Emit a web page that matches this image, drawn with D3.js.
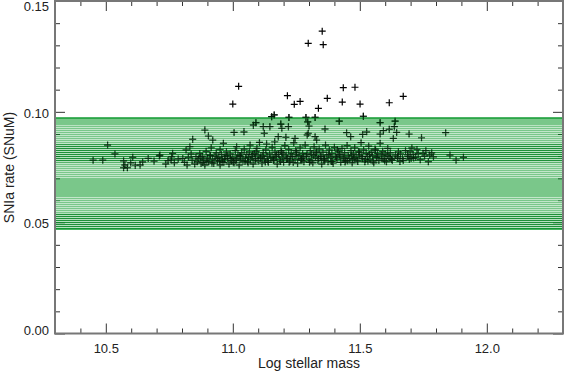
<!DOCTYPE html>
<html><head><meta charset="utf-8">
<script src="https://cdn.jsdelivr.net/npm/d3@7"></script>
<style>
body{margin:0;background:#fff;}
svg{display:block;}
.tick text{font-family:"Liberation Sans",Arial,sans-serif;font-size:13px;fill:#222;}
.ttl{font-family:"Liberation Sans",Arial,sans-serif;font-size:14px;fill:#222;}
</style></head>
<body>
<script>
// ---- data ----
const xDomain = [10.3, 12.3];
const yDomain = [0, 0.15];
const xMajorTicks = [10.5, 11.0, 11.5, 12.0];
const xMinorTicks = [10.4, 10.6, 10.7, 10.8, 10.9, 11.1, 11.2, 11.3, 11.4, 11.6, 11.7, 11.8, 11.9, 12.1, 12.2];
const yMajorTicks = [0.00, 0.05, 0.10, 0.15];
const yMinorTicks = [0.01, 0.02, 0.03, 0.04, 0.06, 0.07, 0.08, 0.09, 0.11, 0.12, 0.13, 0.14];
const xLabel = "Log stellar mass";
const yLabel = "SNIa rate (SNuM)";
// model band: overall range and sub-zones (lo, hi, kind)
const bandRange = [0.0471, 0.0972];
const bandZoneLo   = [0.0940, 0.0854, 0.0772, 0.0700, 0.0616, 0.0543, 0.0471];
const bandZoneHi   = [0.0972, 0.0940, 0.0854, 0.0772, 0.0700, 0.0616, 0.0543];
const bandZoneKind = ["solid", "light", "dark", "light", "solid", "light", "dark"];
// galaxies: log stellar mass, SNIa rate
const massX = [
10.45,10.488,10.507,10.536,10.57,10.575,10.585,10.57,10.598,10.606,10.616,10.635,10.645,10.667,10.69,10.711,10.713,10.736,10.745,10.757,10.759,10.763,10.77,10.785,10.803,10.81,10.816,10.82,10.825,10.831,10.836,10.842,10.84,10.85,10.855,10.86,
10.865,10.87,10.875,10.88,10.885,10.89,10.89,10.895,10.9,10.904,10.905,10.91,10.915,10.92,10.921,10.925,10.93,10.935,10.94,10.945,10.95,10.95,10.955,10.96,10.963,10.965,10.97,10.975,10.98,10.985,10.99,10.995,11.0,11.0,
11.005,11.005,11.01,11.015,11.015,11.02,11.023,11.025,11.03,11.035,11.04,11.044,11.045,11.05,11.055,11.06,11.065,11.068,11.07,11.075,11.08,11.081,11.085,11.09,11.091,11.095,11.1,11.1,11.105,11.11,11.115,11.12,11.12,11.124,11.125,11.13,11.133,11.135,11.14,11.145,11.146,11.15,11.153,11.163,
11.155,11.16,11.165,11.166,11.17,11.175,11.179,11.18,11.185,11.189,11.19,11.193,11.195,11.2,11.205,11.209,11.21,11.215,11.215,11.219,11.221,11.22,11.225,11.23,11.235,11.24,11.242,11.245,11.245,11.25,11.255,11.26,11.265,11.265,11.27,11.275,11.28,11.285,11.288,11.29,11.293,11.295,11.297,11.297,11.3,11.3,11.305,11.31,11.315,11.32,11.324,11.324,11.325,11.33,11.33,11.335,11.337,11.34,11.345,11.35,11.352,11.356,
11.355,11.36,11.363,11.365,11.37,11.372,11.375,11.38,11.385,11.39,11.395,11.4,11.405,11.41,11.415,11.419,11.42,11.425,11.43,11.431,11.435,11.435,11.44,11.445,11.448,11.45,11.455,11.46,11.464,11.465,11.47,11.475,11.48,11.481,11.485,11.49,11.495,11.5,11.501,11.505,11.51,11.511,11.514,11.515,11.52,11.525,11.527,11.53,11.535,11.54,11.545,11.55,
11.555,11.56,11.565,11.57,11.575,11.58,11.58,11.58,11.585,11.59,11.593,11.595,11.6,11.605,11.61,11.615,11.616,11.616,11.62,11.625,11.632,11.636,11.639,11.64,11.645,11.65,11.652,11.66,11.671,11.671,11.68,11.69,11.694,11.695,11.698,
11.705,11.71,11.72,11.725,11.73,11.743,11.749,11.755,11.76,11.77,11.775,11.783,11.79,11.838,11.855,11.879,11.908,
10.872,10.898,10.912,10.938,10.958,10.978,10.992,11.012,11.028,11.048,11.062,11.078,11.088,11.108,11.118,11.138,11.158,11.172,11.188,11.198,11.212,11.228,11.238,11.252,11.268,11.278,11.292,11.308,11.318,11.338,11.348,11.362,11.378,11.392,11.408,11.422,11.438,11.452,11.468,11.478,11.492,11.508,11.522,11.538,11.552,11.568,11.588,11.608,11.628,11.648,11.668,11.688,11.712,11.738,
10.882,10.918,10.948,10.968,11.002,11.032,11.058,11.092,11.128,11.162,11.192,11.222,11.248,11.272,11.302,11.328,11.358,11.388,11.412,11.442,11.472,11.498,11.532,11.562,11.598,11.622,11.658,11.702
];
const snRate = [
0.0782,0.0782,0.0850,0.0810,0.0779,0.0760,0.0748,0.0748,0.0770,0.0795,0.0759,0.0760,0.0774,0.0790,0.0778,0.0801,0.0805,0.0765,0.0780,0.0783,0.0797,0.0813,0.0770,0.0787,0.0790,0.0772,0.0828,0.0760,0.0795,0.0843,0.0810,0.0876,0.0782,0.0765,0.0798,0.0775,
0.0788,0.0812,0.0768,0.0800,0.0783,0.0918,0.0760,0.0822,0.0792,0.0891,0.0775,0.0805,0.0838,0.0785,0.0873,0.0768,0.0800,0.0815,0.0778,0.0795,0.0760,0.0830,0.0808,0.0786,0.0858,0.0772,0.0800,0.0820,0.0790,0.0765,0.0810,0.0780,0.0795,0.1035,
0.0907,0.0770,0.0825,0.0843,0.0788,0.0805,0.1115,0.0760,0.0798,0.0815,0.0778,0.0910,0.0832,0.0792,0.0808,0.0770,0.0820,0.0850,0.0785,0.0800,0.0765,0.0940,0.0812,0.0790,0.0951,0.0835,0.0778,0.0805,0.0862,0.0795,0.0768,0.0933,0.0815,0.0903,0.0787,0.0828,0.0855,0.0800,0.0772,0.0810,0.0933,0.0792,0.0978,0.0986,
0.0840,0.0780,0.0865,0.0818,0.0798,0.0765,0.0888,0.0808,0.0785,0.0945,0.0825,0.0926,0.0795,0.0772,0.0848,0.0885,0.0805,0.1073,0.0790,0.0933,0.0975,0.0830,0.0778,0.0812,0.0798,0.0860,0.1034,0.0880,0.0785,0.0818,0.0768,0.0802,0.1047,0.0838,0.0790,0.0812,0.0775,0.0850,0.0975,0.0800,0.0895,0.0955,0.1309,0.0903,0.0936,0.0785,0.0825,0.0808,0.0770,0.0842,0.0975,0.0888,0.0795,0.0873,0.0815,0.0780,0.1016,0.0832,0.0800,0.0765,0.1364,0.1303,
0.0818,0.0790,0.0922,0.0850,0.0805,0.1061,0.0775,0.0828,0.0795,0.0812,0.0768,0.0840,0.0800,0.0785,0.0822,0.0958,0.0808,0.0772,0.0835,0.1044,0.1109,0.0795,0.0815,0.0780,0.0906,0.0848,0.0802,0.0790,0.0888,0.0825,0.0770,0.0810,0.0838,0.1111,0.0795,0.0782,0.0820,0.0805,0.1035,0.0861,0.0790,0.0898,0.0980,0.0828,0.0775,0.0812,0.0910,0.0798,0.0845,0.0785,0.0818,0.0802,
0.0770,0.0832,0.0795,0.0812,0.0780,0.0951,0.0900,0.0858,0.0805,0.0822,0.0915,0.0788,0.0810,0.0775,0.0835,0.0798,0.1041,0.0921,0.0815,0.0785,0.0880,0.0933,0.0958,0.0805,0.0907,0.0790,0.0820,0.0810,0.1070,0.0780,0.0825,0.0798,0.0900,0.0786,0.0820,
0.0837,0.0808,0.0795,0.0830,0.0812,0.0883,0.0813,0.0800,0.0825,0.0775,0.0805,0.0815,0.0797,0.0906,0.0805,0.0782,0.0795,
0.0796,0.0778,0.0803,0.0790,0.0776,0.0802,0.0788,0.0781,0.0803,0.0777,0.0795,0.0808,0.0782,0.0790,0.0801,0.0779,0.0793,0.0806,0.0776,0.0811,0.0787,0.0798,0.0771,0.0806,0.0784,0.0796,0.0810,0.0779,0.0803,0.0789,0.0798,0.0782,0.0807,0.0776,0.0794,0.0801,0.0788,0.0779,0.0805,0.0791,0.0776,0.0799,0.0785,0.0807,0.0778,0.0796,0.0788,0.0803,0.0781,0.0797,0.0789,0.0806,0.0792,0.0784,
0.0771,0.0769,0.0779,0.0786,0.0773,0.0783,0.0776,0.0822,0.0774,0.0784,0.0817,0.0773,0.0826,0.0781,0.0772,0.0819,0.0783,0.0776,0.0829,0.0774,0.0785,0.0818,0.0778,0.0827,0.0779,0.0790,0.0776,0.0790
];

// ---- layout ----
const W = 565, H = 372;
const L = 55, R = 563, T = 1, B = 333.5;

const svg = d3.select("body").append("svg").attr("width", W).attr("height", H);
const x = d3.scaleLinear().domain(xDomain).range([L, R]);
const y = d3.scaleLinear().domain(yDomain).range([B, T]);

// patterns for stripes
const defs = svg.append("defs");
function stripe(id, rowA, rowB) {
  const p = defs.append("pattern").attr("id", id).attr("patternUnits", "userSpaceOnUse")
    .attr("width", 8).attr("height", 2);
  p.append("rect").attr("x", 0).attr("y", 0).attr("width", 8).attr("height", 1).attr("fill", rowA);
  p.append("rect").attr("x", 0).attr("y", 1).attr("width", 8).attr("height", 1).attr("fill", rowB);
}
stripe("light", "rgba(0,148,30,0.0)", "rgba(255,255,255,0.55)");
stripe("dark", "rgba(0,125,30,0.75)", "rgba(255,255,255,0.45)");

// ticks (under band)
const gAx = svg.append("g");
function ax(gen, tr, vals, size, labels) {
  const a = gen.tickValues(vals).tickSizeInner(-size).tickSizeOuter(0)
    .tickFormat(labels ? d3.format(labels) : () => "");
  const g = gAx.append("g").attr("transform", tr).call(a);
  g.select(".domain").remove();
  g.selectAll(".tick line").attr("stroke", "#333").attr("stroke-width", 1);
  return g;
}
ax(d3.axisBottom(x).tickPadding(10), `translate(0,${B})`, xMajorTicks, 10, ".1f");
ax(d3.axisBottom(x), `translate(0,${B})`, xMinorTicks, 5, null);
ax(d3.axisTop(x), `translate(0,${T})`, xMajorTicks, 10, null);
ax(d3.axisTop(x), `translate(0,${T})`, xMinorTicks, 5, null);
const gy = ax(d3.axisLeft(y).tickPadding(6), `translate(${L},0)`, yMajorTicks, 10, ".2f");
// IDL keeps the end labels inside the frame
gy.selectAll(".tick text").attr("dy", d => d === 0.15 ? "0.72em" : d === 0 ? "0.1em" : "0.40em");
ax(d3.axisLeft(y), `translate(${L},0)`, yMinorTicks, 5, null);
ax(d3.axisRight(y), `translate(${R},0)`, yMajorTicks, 10, null);
ax(d3.axisRight(y), `translate(${R},0)`, yMinorTicks, 5, null);

// points
const pts = d3.zip(massX, snRate);
const s = 3.5;
const plus = d => {
  const px = x(d[0]), py = y(d[1]);
  return `M${px - s},${py}H${px + s}M${px},${py - s}V${py + s}`;
};
svg.append("g").attr("stroke", "#000").attr("stroke-width", 1.2)
  .selectAll("path").data(pts).join("path").attr("d", plus);

// band
const gb = svg.append("g");
gb.append("rect").attr("x", L).attr("width", R - L)
  .attr("y", y(bandRange[1])).attr("height", y(bandRange[0]) - y(bandRange[1]))
  .attr("fill", "rgb(0,148,30)").attr("fill-opacity", 0.52);
bandZoneKind.forEach((k, i) => {
  if (k === "solid") return;
  gb.append("rect").attr("x", L).attr("width", R - L)
    .attr("y", y(bandZoneHi[i])).attr("height", y(bandZoneLo[i]) - y(bandZoneHi[i]))
    .attr("fill", `url(#${k})`);
});
gb.selectAll("line.edge").data(bandRange).join("line").attr("class", "edge")
  .attr("x1", L).attr("x2", R).attr("y1", d => y(d)).attr("y2", d => y(d))
  .attr("stroke", "#119a30").attr("stroke-width", 1.5);

// points seen through the band
svg.append("g").attr("stroke", "#041e0a").attr("stroke-width", 1.2).attr("stroke-opacity", 0.68)
  .selectAll("path").data(pts.filter(d => d[1] <= bandRange[1] + 0.002)).join("path").attr("d", plus);

// axis frame lines (on top)
svg.append("rect").attr("x", L).attr("y", T).attr("width", R - L).attr("height", B - T)
  .attr("fill", "none").attr("stroke", "#777").attr("stroke-width", 2);

// titles
svg.append("text").attr("class", "ttl").attr("x", 309).attr("y", 368)
  .attr("text-anchor", "middle").text(xLabel);
svg.append("text").attr("class", "ttl").attr("transform", "translate(14,167.5) rotate(-90)")
  .attr("text-anchor", "middle").text(yLabel);
</script>
</body></html>
